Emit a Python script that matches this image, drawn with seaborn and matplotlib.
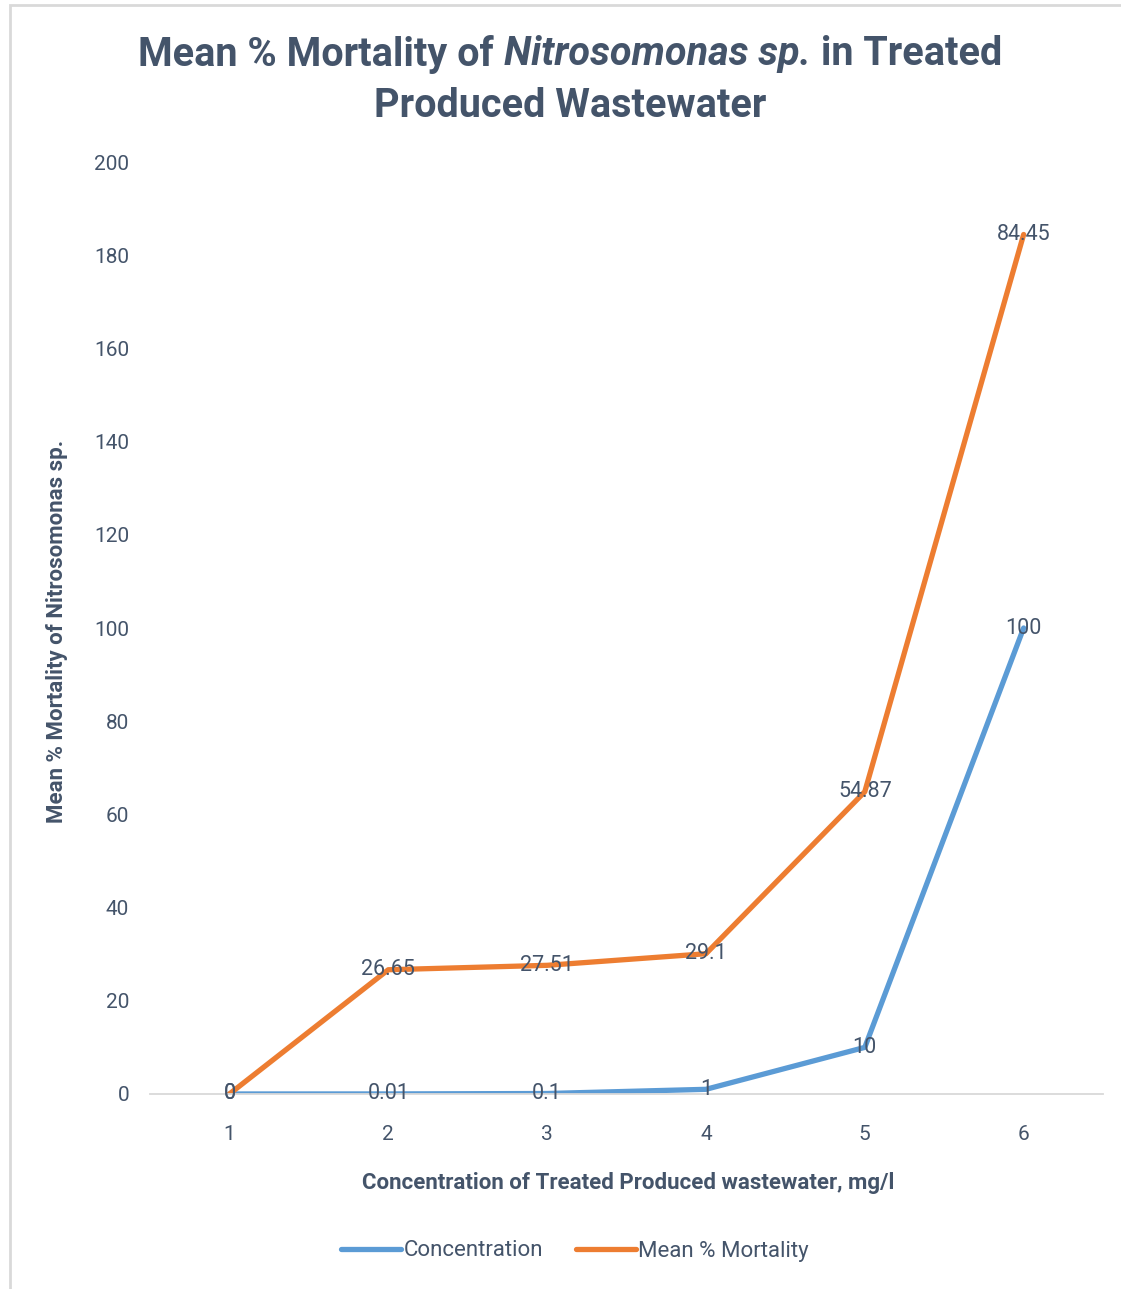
import matplotlib
matplotlib.use("Agg")
import matplotlib.pyplot as plt
import seaborn as sns
import numpy as np
import pandas as pd
from matplotlib.patches import Rectangle
from matplotlib.lines import Line2D

categories = [1, 2, 3, 4, 5, 6]
concentration = [0, 0.01, 0.1, 1, 10, 100]
mortality = [0, 26.65, 27.51, 29.1, 54.87, 84.45]
y_ticks = [0, 20, 40, 60, 80, 100, 120, 140, 160, 180, 200]

TXT = "#44546A"
BLUE = "#5B9BD5"
ORANGE = "#ED7D31"

sns.set_theme(style="white")
plt.rcParams['font.family'] = ['Roboto', 'DejaVu Sans']

# stacked line: second series drawn on top of first
stacked = list(np.array(concentration) + np.array(mortality))
df = pd.DataFrame({
    "x": categories * 2,
    "y": concentration + stacked,
    "series": ["Concentration"] * 6 + ["Mean % Mortality"] * 6,
})

fig = plt.figure(figsize=(11.21, 12.89), dpi=100)
ax = fig.add_axes([0.1338, 0.1513, 0.8502, 0.7230])

sns.lineplot(data=df, x="x", y="y", hue="series", palette=[BLUE, ORANGE],
             linewidth=3.8, ax=ax, legend=False, solid_capstyle="round")

ax.set_xlim(0.5, 6.5)
ax.set_ylim(0, 200)
ax.set_yticks(y_ticks)
ax.set_xticks(categories)
ax.tick_params(axis='both', length=0, labelsize=15, colors=TXT)
ax.tick_params(axis='x', pad=22)
ax.tick_params(axis='y', pad=15)
for s in ["top", "right", "left"]:
    ax.spines[s].set_visible(False)
ax.spines["bottom"].set_color("#D9D9D9")
ax.spines["bottom"].set_linewidth(1.3)
ax.grid(False)
ax.set_xlabel("")
ax.set_ylabel("")

for xv, yv, lab in zip(categories, concentration, concentration):
    ax.text(xv, yv, f"{lab:g}", ha="center", va="center", fontsize=15.5, color=TXT)
for xv, yv, lab in zip(categories, stacked, mortality):
    ax.text(xv, yv, f"{lab:g}", ha="center", va="center", fontsize=15.5, color=TXT)

# axis labels
fig.text(628 / 1121, 1 - 1183 / 1289, "Concentration of Treated Produced wastewater, mg/l",
         ha="center", va="center", fontsize=16, fontweight="bold", color=TXT)
fig.text(57 / 1121, 1 - 631 / 1289, "Mean % Mortality of Nitrosomonas sp.",
         ha="center", va="center", fontsize=16, fontweight="bold", color=TXT, rotation=90)

# title with italic part
fig.canvas.draw()
renderer = fig.canvas.get_renderer()
parts = [("Mean % Mortality of ", "normal"), ("Nitrosomonas sp.", "italic"), (" in Treated", "normal")]
tsize = 28.5
y1 = 1 - 54 / 1289
tmp = []
widths = []
for txt, style in parts:
    t = fig.text(0, y1, txt, fontsize=tsize, fontweight="bold", style=style, color=TXT,
                 ha="left", va="center")
    tmp.append(t)
    widths.append(t.get_window_extent(renderer).width)
total = sum(widths)
x0 = 570 - total / 2
for t, w in zip(tmp, widths):
    t.set_x(x0 / 1121)
    x0 += w
fig.text(570 / 1121, 1 - 106 / 1289, "Produced Wastewater", fontsize=tsize, fontweight="bold",
         color=TXT, ha="center", va="center")

# legend
handles = [Line2D([0], [0], color=BLUE, lw=3.8), Line2D([0], [0], color=ORANGE, lw=3.8)]
fig.legend(handles, ["Concentration", "Mean % Mortality"], loc="center",
           bbox_to_anchor=(575 / 1121, 1 - 1251 / 1289), ncol=2, frameon=False,
           fontsize=16, labelcolor=TXT, handlelength=2.7, handletextpad=0.1, columnspacing=1.5)

# chart border
fig.patches.append(Rectangle((10 / 1121, -0.01), 1.02, 1 - 5 / 1289 + 0.01, transform=fig.transFigure,
                             fill=False, edgecolor="#D9D9D9", linewidth=2))

fig.savefig("out.png", dpi=100)
